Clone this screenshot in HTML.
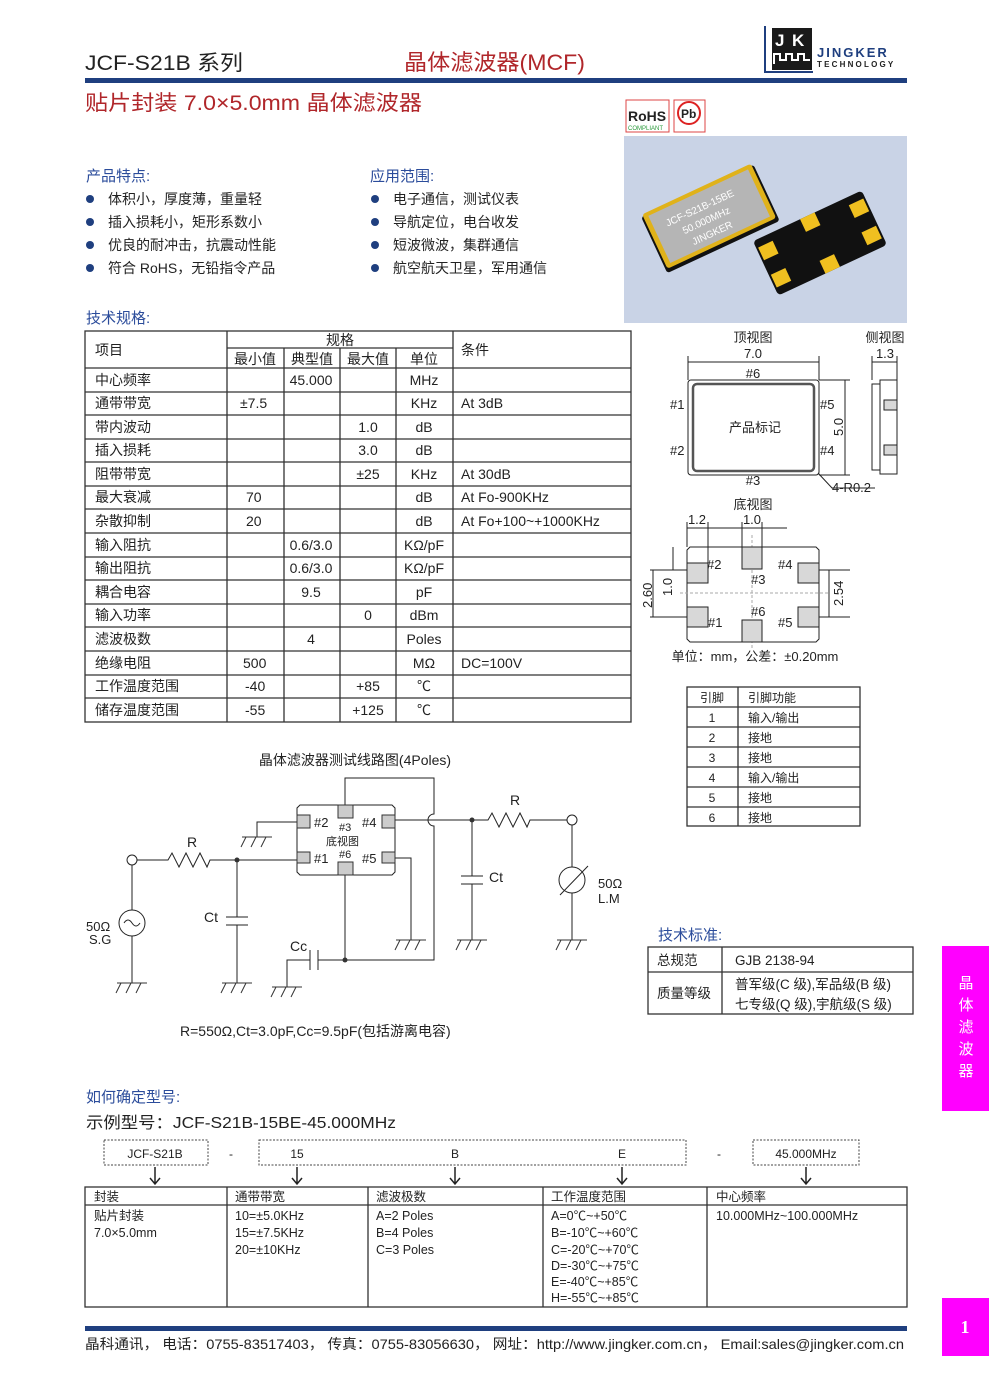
<!DOCTYPE html>
<html><head><meta charset="utf-8"><style>
body{margin:0;background:#fff}
svg{display:block}
text{font-family:"Liberation Sans","Noto Sans CJK SC",sans-serif;fill:#222}
.b{fill:#2b4c9b}
.r{fill:#b0262a}
.ln{stroke:#222;stroke-width:1;fill:none}
.tl{stroke:#333;stroke-width:1.3;fill:none}
</style></head><body>
<svg width="989" height="1400" viewBox="0 0 989 1400" xmlns="http://www.w3.org/2000/svg">
<!-- header -->
<text x="85" y="70" font-size="21" textLength="158" lengthAdjust="spacingAndGlyphs">JCF-S21B 系列</text>
<text x="404" y="70" font-size="22" class="r" textLength="181" lengthAdjust="spacingAndGlyphs">晶体滤波器(MCF)</text>
<rect x="85" y="78" width="822" height="5" fill="#1f3f7f"/>
<text x="85" y="110" font-size="21" class="r" textLength="337" lengthAdjust="spacingAndGlyphs">贴片封装 7.0×5.0mm 晶体滤波器</text>
<!-- logo -->
<path d="M765 26 V72 H813" stroke="#1f3f7f" stroke-width="2" fill="none"/>
<rect x="772" y="28" width="40" height="42" fill="#1a1a1a"/>
<text x="775" y="46" font-size="17" font-weight="bold" style="fill:#fff">J</text>
<text x="792" y="46" font-size="17" font-weight="bold" style="fill:#fff">K</text>
<path d="M774 64 V54 H780 V60 H786 V54 H792 V60 H798 V54 H804 V60 H810" stroke="#fff" stroke-width="2" fill="none"/>
<text x="817" y="57" font-size="13" font-weight="bold" style="fill:#1f3f7f;letter-spacing:2px">JINGKER</text>
<text x="817" y="67" font-size="8" font-weight="bold" style="letter-spacing:2.2px">TECHNOLOGY</text>
<!-- rohs -->
<rect x="626" y="100" width="43" height="32" fill="#fff" stroke="#d44" stroke-width="1"/>
<text x="628" y="121" font-size="14" font-weight="bold">RoHS</text>
<text x="628" y="130" font-size="6" style="fill:#2a9a3a">COMPLIANT</text>
<rect x="674" y="100" width="31" height="32" fill="#fff" stroke="#d44"/>
<circle cx="689" cy="113" r="11" fill="none" stroke="#d22" stroke-width="2"/>
<text x="681" y="118" font-size="12" font-weight="bold">Pb</text>
<!-- photo -->
<rect x="624" y="136" width="283" height="187" fill="#c9d3e6"/>
<g transform="translate(710,218) rotate(-25)">
<rect x="-62" y="-30" width="124" height="62" fill="#111" rx="3"/>
<rect x="-60" y="-32" width="120" height="60" fill="#e0b21a" rx="3"/>
<rect x="-55" y="-28" width="110" height="52" fill="#b5b5b5"/>
<text x="-42" y="-10" font-size="10" style="fill:#fff">JCF-S21B-15BE</text>
<text x="-30" y="4" font-size="10" style="fill:#fff">50.000MHz</text>
<text x="-26" y="18" font-size="10" style="fill:#fff">JINGKER</text>
</g>
<g transform="translate(820,243) rotate(-25)">
<rect x="-60" y="-30" width="120" height="60" fill="#111" rx="4"/>
<rect x="-58" y="-22" width="16" height="14" fill="#f0c020"/>
<rect x="-58" y="8" width="16" height="14" fill="#f0c020"/>
<rect x="42" y="-22" width="16" height="14" fill="#f0c020"/>
<rect x="42" y="8" width="16" height="14" fill="#f0c020"/>
<rect x="-8" y="-30" width="16" height="14" fill="#f0c020"/>
<rect x="-8" y="16" width="16" height="14" fill="#f0c020"/>
</g>
<!-- features -->
<text x="86" y="181" font-size="15" class="b">产品特点:</text>
<text x="370" y="181" font-size="15" class="b">应用范围:</text>
<g fill="#1f3f7f">
<circle cx="90" cy="199" r="4"/><circle cx="90" cy="222" r="4"/><circle cx="90" cy="245" r="4"/><circle cx="90" cy="268" r="4"/>
<circle cx="375" cy="199" r="4"/><circle cx="375" cy="222" r="4"/><circle cx="375" cy="245" r="4"/><circle cx="375" cy="268" r="4"/>
</g>
<g font-size="14">
<text x="108" y="204">体积小，厚度薄，重量轻</text>
<text x="108" y="227">插入损耗小，矩形系数小</text>
<text x="108" y="250">优良的耐冲击，抗震动性能</text>
<text x="108" y="273">符合 RoHS，无铅指令产品</text>
<text x="393" y="204">电子通信，测试仪表</text>
<text x="393" y="227">导航定位，电台收发</text>
<text x="393" y="250">短波微波，集群通信</text>
<text x="393" y="273">航空航天卫星，军用通信</text>
</g>
<text x="86" y="323" font-size="15" class="b">技术规格:</text>
<!-- spec table -->
<g class="tl">
<rect x="85" y="331" width="546" height="391"/>
<line x1="227" y1="348" x2="453" y2="348"/>
<line x1="85" y1="368" x2="631" y2="368"/>
<line x1="227" y1="331" x2="227" y2="722"/>
<line x1="284" y1="348" x2="284" y2="722"/>
<line x1="340" y1="348" x2="340" y2="722"/>
<line x1="396" y1="348" x2="396" y2="722"/>
<line x1="453" y1="331" x2="453" y2="722"/>
<line x1="85" y1="392" x2="631" y2="392"/><line x1="85" y1="415" x2="631" y2="415"/>
<line x1="85" y1="439" x2="631" y2="439"/><line x1="85" y1="462" x2="631" y2="462"/>
<line x1="85" y1="486" x2="631" y2="486"/><line x1="85" y1="509" x2="631" y2="509"/>
<line x1="85" y1="533" x2="631" y2="533"/><line x1="85" y1="557" x2="631" y2="557"/>
<line x1="85" y1="580" x2="631" y2="580"/><line x1="85" y1="604" x2="631" y2="604"/>
<line x1="85" y1="627" x2="631" y2="627"/><line x1="85" y1="651" x2="631" y2="651"/>
<line x1="85" y1="675" x2="631" y2="675"/><line x1="85" y1="698" x2="631" y2="698"/>
</g>
<g font-size="14">
<text x="95" y="355">项目</text><text x="340" y="345" text-anchor="middle">规格</text><text x="461" y="355">条件</text>
<text x="255" y="364" text-anchor="middle">最小值</text><text x="312" y="364" text-anchor="middle">典型值</text><text x="368" y="364" text-anchor="middle">最大值</text><text x="424" y="364" text-anchor="middle">单位</text>
<g>
<text x="95" y="385">中心频率</text><text x="95" y="408">通带带宽</text><text x="95" y="432">带内波动</text><text x="95" y="455">插入损耗</text><text x="95" y="479">阻带带宽</text><text x="95" y="502">最大衰减</text><text x="95" y="526">杂散抑制</text><text x="95" y="550">输入阻抗</text><text x="95" y="573">输出阻抗</text><text x="95" y="597">耦合电容</text><text x="95" y="620">输入功率</text><text x="95" y="644">滤波极数</text><text x="95" y="668">绝缘电阻</text><text x="95" y="691">工作温度范围</text><text x="95" y="715">储存温度范围</text>
</g>
<text x="240" y="408">±7.5</text><text x="246" y="502">70</text><text x="246" y="526">20</text><text x="243" y="668">500</text><text x="245" y="691">-40</text><text x="245" y="715">-55</text>
<g text-anchor="middle">
<text x="311" y="385">45.000</text><text x="311" y="550">0.6/3.0</text><text x="311" y="573">0.6/3.0</text><text x="311" y="597">9.5</text><text x="311" y="644">4</text>
<text x="368" y="432">1.0</text><text x="368" y="455">3.0</text><text x="368" y="479">±25</text><text x="368" y="620">0</text><text x="368" y="691">+85</text><text x="368" y="715">+125</text>
<text x="424" y="385">MHz</text><text x="424" y="408">KHz</text><text x="424" y="432">dB</text><text x="424" y="455">dB</text><text x="424" y="479">KHz</text><text x="424" y="502">dB</text><text x="424" y="526">dB</text><text x="424" y="550">KΩ/pF</text><text x="424" y="573">KΩ/pF</text><text x="424" y="597">pF</text><text x="424" y="620">dBm</text><text x="424" y="644">Poles</text><text x="424" y="668">MΩ</text><text x="424" y="691">℃</text><text x="424" y="715">℃</text>
</g>
<text x="461" y="408">At 3dB</text><text x="461" y="479">At 30dB</text><text x="461" y="502">At Fo-900KHz</text><text x="461" y="526">At Fo+100~+1000KHz</text><text x="461" y="668">DC=100V</text>
</g>
<!-- top view -->
<g font-size="13">
<text x="753" y="342" text-anchor="middle">顶视图</text>
<text x="885" y="342" text-anchor="middle">侧视图</text>
<text x="753" y="358" text-anchor="middle">7.0</text>
<text x="885" y="358" text-anchor="middle">1.3</text>
<text x="753" y="378" text-anchor="middle">#6</text>
<text x="670" y="409">#1</text><text x="670" y="455">#2</text>
<text x="820" y="409">#5</text><text x="820" y="455">#4</text>
<text x="753" y="485" text-anchor="middle">#3</text>
<text x="755" y="432" text-anchor="middle">产品标记</text>
<text x="832" y="492">4-R0.2</text>
<text x="753" y="509" text-anchor="middle">底视图</text>
<text x="697" y="524" text-anchor="middle">1.2</text><text x="752" y="524" text-anchor="middle">1.0</text>
<text x="707" y="569">#2</text><text x="751" y="584">#3</text><text x="778" y="569">#4</text>
<text x="708" y="627">#1</text><text x="751" y="616">#6</text><text x="778" y="627">#5</text>
<text x="755" y="661" text-anchor="middle">单位：mm，公差：±0.20mm</text>
<text transform="translate(843,436) rotate(-90)">5.0</text>
<text transform="translate(652,608) rotate(-90)">2.60</text>
<text transform="translate(672,596) rotate(-90)">1.0</text>
<text transform="translate(843,606) rotate(-90)">2.54</text>
</g>
<g class="ln">
<rect x="688" y="380" width="131" height="95" rx="3"/>
<rect x="693" y="384" width="121" height="87" rx="4" stroke-width="2.5" stroke="#555"/>
<line x1="688" y1="362" x2="819" y2="362"/><line x1="688" y1="356" x2="688" y2="380"/><line x1="819" y1="356" x2="819" y2="380"/>
<line x1="845" y1="380" x2="845" y2="475"/><line x1="819" y1="380" x2="850" y2="380"/><line x1="819" y1="475" x2="850" y2="475"/>
<path d="M818 473 L832 488 H875"/>
<rect x="880" y="380" width="17" height="94"/><rect x="872" y="384" width="8" height="86"/>
<line x1="872" y1="362" x2="897" y2="362"/><line x1="872" y1="356" x2="872" y2="380"/><line x1="897" y1="356" x2="897" y2="380"/>
<path d="M687 550 l3 -3 H816 l3 3 V639 l-3 3 H690 l-3 -3 Z"/>
<line x1="687" y1="528" x2="787" y2="528"/>
<line x1="687" y1="522" x2="687" y2="547"/><line x1="708" y1="522" x2="708" y2="563"/><line x1="742" y1="522" x2="742" y2="547"/><line x1="762" y1="522" x2="762" y2="547"/>
<line x1="653" y1="570" x2="653" y2="617"/><line x1="650" y1="570" x2="690" y2="570"/><line x1="650" y1="617" x2="690" y2="617"/>
<line x1="673" y1="547" x2="673" y2="570"/>
<line x1="829" y1="570" x2="829" y2="617"/><line x1="819" y1="570" x2="850" y2="570"/><line x1="819" y1="617" x2="850" y2="617"/>
<line x1="752" y1="535" x2="752" y2="650" stroke-dasharray="3,2" stroke="#aaa"/>
<line x1="680" y1="593" x2="830" y2="593" stroke-dasharray="3,2" stroke="#aaa"/>
</g>
<g fill="#d8d8d8" stroke="#222">
<rect x="687" y="563" width="21" height="20"/><rect x="687" y="607" width="21" height="20"/>
<rect x="798" y="563" width="21" height="20"/><rect x="798" y="607" width="21" height="20"/>
<rect x="742" y="547" width="20" height="22"/><rect x="742" y="620" width="20" height="22"/>
<rect x="884" y="400" width="13" height="10"/><rect x="884" y="445" width="13" height="10"/>
</g>
<!-- pin table -->
<g class="tl">
<rect x="687" y="687" width="173" height="139"/>
<line x1="738" y1="687" x2="738" y2="826"/>
<line x1="687" y1="707" x2="860" y2="707"/><line x1="687" y1="727" x2="860" y2="727"/><line x1="687" y1="747" x2="860" y2="747"/>
<line x1="687" y1="767" x2="860" y2="767"/><line x1="687" y1="787" x2="860" y2="787"/><line x1="687" y1="807" x2="860" y2="807"/>
</g>
<g font-size="12">
<text x="712" y="702" text-anchor="middle">引脚</text><text x="748" y="702">引脚功能</text>
<g text-anchor="middle"><text x="712" y="722">1</text><text x="712" y="742">2</text><text x="712" y="762">3</text><text x="712" y="782">4</text><text x="712" y="802">5</text><text x="712" y="822">6</text></g>
<text x="748" y="722">输入/输出</text><text x="748" y="742">接地</text><text x="748" y="762">接地</text><text x="748" y="782">输入/输出</text><text x="748" y="802">接地</text><text x="748" y="822">接地</text>
</g>
<!-- circuit -->
<text x="355" y="765" font-size="14" text-anchor="middle">晶体滤波器测试线路图(4Poles)</text>
<g class="ln" stroke="#333">
<path d="M300 805 H392 l3 3 V872 l-3 3 H300 l-3 -3 V808 Z"/>
<circle cx="132" cy="860" r="5" fill="#fff"/>
<circle cx="132" cy="923" r="13"/>
<path d="M124 923 q4 -6 8 0 t8 0"/>
<line x1="132" y1="865" x2="132" y2="910"/><line x1="132" y1="936" x2="132" y2="983"/>
<path d="M137 860 H168 l4 -7 l7 14 l7 -14 l7 14 l7 -14 l7 14 l3 -7 H297"/>
<line x1="237" y1="860" x2="237" y2="917"/><line x1="226" y1="917" x2="248" y2="917"/><line x1="226" y1="925" x2="248" y2="925"/><line x1="237" y1="925" x2="237" y2="983"/>
<path d="M297 822 H257 V837"/>
<path d="M345 805 V778 H434 V814 a6 6 0 0 0 0 12 V960 H345"/>
<path d="M395 820 H472"/>
<path d="M472 820 H488 l4 -7 l7 14 l7 -14 l7 14 l7 -14 l7 14 l3 -7 H567"/>
<circle cx="572" cy="820" r="5" fill="#fff"/>
<line x1="472" y1="820" x2="472" y2="876"/><line x1="461" y1="876" x2="483" y2="876"/><line x1="461" y1="884" x2="483" y2="884"/><line x1="472" y1="884" x2="472" y2="940"/>
<line x1="572" y1="825" x2="572" y2="867"/><circle cx="572" cy="880" r="13"/><line x1="572" y1="893" x2="572" y2="940"/>
<line x1="560" y1="895" x2="588" y2="866"/>
<path d="M395 858 H411 V940"/>
<path d="M345 875 V960"/>
<path d="M345 960 H318 M310 960 H287 V987"/>
<line x1="318" y1="950" x2="318" y2="970"/><line x1="310" y1="950" x2="310" y2="970"/>
</g>
<g fill="#333"><circle cx="237" cy="860" r="2.5"/><circle cx="472" cy="820" r="2.5"/><circle cx="345" cy="960" r="2.5"/></g>
<g fill="#ccc" stroke="#333">
<rect x="297" y="815" width="13" height="13"/><rect x="297" y="852" width="13" height="11"/>
<rect x="338" y="805" width="15" height="13"/><rect x="338" y="862" width="15" height="13"/>
<rect x="382" y="815" width="13" height="13"/><rect x="382" y="852" width="13" height="11"/>
</g>
<g stroke="#333" fill="none">
<path d="M117 983 h30 M121 983 l-5 10 M131 983 l-5 10 M141 983 l-5 10"/>
<path d="M222 983 h30 M226 983 l-5 10 M236 983 l-5 10 M246 983 l-5 10"/>
<path d="M272 987 h30 M276 987 l-5 10 M286 987 l-5 10 M296 987 l-5 10"/>
<path d="M242 837 h30 M246 837 l-5 10 M256 837 l-5 10 M266 837 l-5 10"/>
<path d="M396 940 h30 M400 940 l-5 10 M410 940 l-5 10 M420 940 l-5 10"/>
<path d="M457 940 h30 M461 940 l-5 10 M471 940 l-5 10 M481 940 l-5 10"/>
<path d="M557 940 h30 M561 940 l-5 10 M571 940 l-5 10 M581 940 l-5 10"/>
</g>
<g font-size="13">
<text x="314" y="827">#2</text><text x="362" y="827">#4</text><text x="339" y="831" font-size="11">#3</text>
<text x="326" y="845" font-size="11">底视图</text>
<text x="314" y="863">#1</text><text x="362" y="863">#5</text><text x="339" y="858" font-size="11">#6</text>
<text x="187" y="847" font-size="14">R</text><text x="510" y="805" font-size="14">R</text>
<text x="204" y="922" font-size="14">Ct</text><text x="489" y="882" font-size="14">Ct</text><text x="290" y="951" font-size="14">Cc</text>
<text x="86" y="931">50Ω</text><text x="89" y="944">S.G</text>
<text x="598" y="888">50Ω</text><text x="598" y="903">L.M</text>
<text x="180" y="1036" font-size="14">R=550Ω,Ct=3.0pF,Cc=9.5pF(包括游离电容)</text>
</g>
<!-- tech standard -->
<text x="658" y="940" font-size="15" class="b">技术标准:</text>
<g class="tl"><rect x="648" y="947" width="265" height="67"/><line x1="648" y1="972" x2="913" y2="972"/><line x1="722" y1="947" x2="722" y2="1014"/></g>
<g font-size="13.5"><text x="657" y="965">总规范</text><text x="735" y="965">GJB 2138-94</text>
<text x="657" y="998">质量等级</text><text x="735" y="989">普军级(C 级),军品级(B 级)</text><text x="735" y="1009">七专级(Q 级),宇航级(S 级)</text></g>
<!-- sidebar -->
<rect x="942" y="946" width="47" height="165" fill="#ff00ff"/>
<g font-size="15" text-anchor="middle"><text x="966" y="988" style="fill:#fff">晶</text><text x="966" y="1010" style="fill:#fff">体</text><text x="966" y="1032" style="fill:#fff">滤</text><text x="966" y="1054" style="fill:#fff">波</text><text x="966" y="1076" style="fill:#fff">器</text></g>
<rect x="942" y="1298" width="47" height="58" fill="#ff00ff"/>
<text x="965" y="1333" font-size="18" font-weight="bold" text-anchor="middle" style="fill:#fff;font-family:'Liberation Serif',serif">1</text>
<!-- model -->
<text x="86" y="1102" font-size="15" class="b">如何确定型号:</text>
<text x="86" y="1128" font-size="16" textLength="310" lengthAdjust="spacingAndGlyphs">示例型号：JCF-S21B-15BE-45.000MHz</text>
<g fill="none" stroke="#444" stroke-dasharray="2,1.5"><rect x="104" y="1140" width="104" height="25"/><rect x="259" y="1140" width="427" height="25"/><rect x="753" y="1140" width="106" height="25"/></g>
<g font-size="12"><text x="155" y="1158" text-anchor="middle">JCF-S21B</text><text x="231" y="1158" text-anchor="middle">-</text><text x="297" y="1158" text-anchor="middle">15</text><text x="455" y="1158" text-anchor="middle">B</text><text x="622" y="1158" text-anchor="middle">E</text><text x="719" y="1158" text-anchor="middle">-</text><text x="806" y="1158" text-anchor="middle">45.000MHz</text></g>
<g stroke="#222" stroke-width="1.5" fill="none">
<path d="M155 1167 V1184 M150 1178 l5 6 l5 -6"/><path d="M297 1167 V1184 M292 1178 l5 6 l5 -6"/><path d="M455 1167 V1184 M450 1178 l5 6 l5 -6"/><path d="M622 1167 V1184 M617 1178 l5 6 l5 -6"/><path d="M806 1167 V1184 M801 1178 l5 6 l5 -6"/>
</g>
<g class="tl"><rect x="85" y="1187" width="822" height="120"/><line x1="85" y1="1205" x2="907" y2="1205"/>
<line x1="227" y1="1187" x2="227" y2="1307"/><line x1="368" y1="1187" x2="368" y2="1307"/><line x1="543" y1="1187" x2="543" y2="1307"/><line x1="707" y1="1187" x2="707" y2="1307"/></g>
<g font-size="12.5">
<text x="94" y="1201">封装</text><text x="235" y="1201">通带带宽</text><text x="376" y="1201">滤波极数</text><text x="551" y="1201">工作温度范围</text><text x="716" y="1201">中心频率</text>
<text x="94" y="1220">贴片封装</text><text x="94" y="1237">7.0×5.0mm</text>
<text x="235" y="1220">10=±5.0KHz</text><text x="235" y="1237">15=±7.5KHz</text><text x="235" y="1254">20=±10KHz</text>
<text x="376" y="1220">A=2 Poles</text><text x="376" y="1237">B=4 Poles</text><text x="376" y="1254">C=3 Poles</text>
<text x="551" y="1220">A=0℃~+50℃</text><text x="551" y="1237">B=-10℃~+60℃</text><text x="551" y="1254">C=-20℃~+70℃</text><text x="551" y="1270">D=-30℃~+75℃</text><text x="551" y="1286">E=-40℃~+85℃</text><text x="551" y="1302">H=-55℃~+85℃</text>
<text x="716" y="1220">10.000MHz~100.000MHz</text>
</g>
<!-- footer -->
<rect x="85" y="1326" width="822" height="5" fill="#1f3f7f"/>
<text x="85" y="1349" font-size="14" textLength="819" lengthAdjust="spacingAndGlyphs">晶科通讯，  电话：0755-83517403，  传真：0755-83056630，  网址：http://www.jingker.com.cn，   Email:sales@jingker.com.cn</text>
</svg>
</body></html>
